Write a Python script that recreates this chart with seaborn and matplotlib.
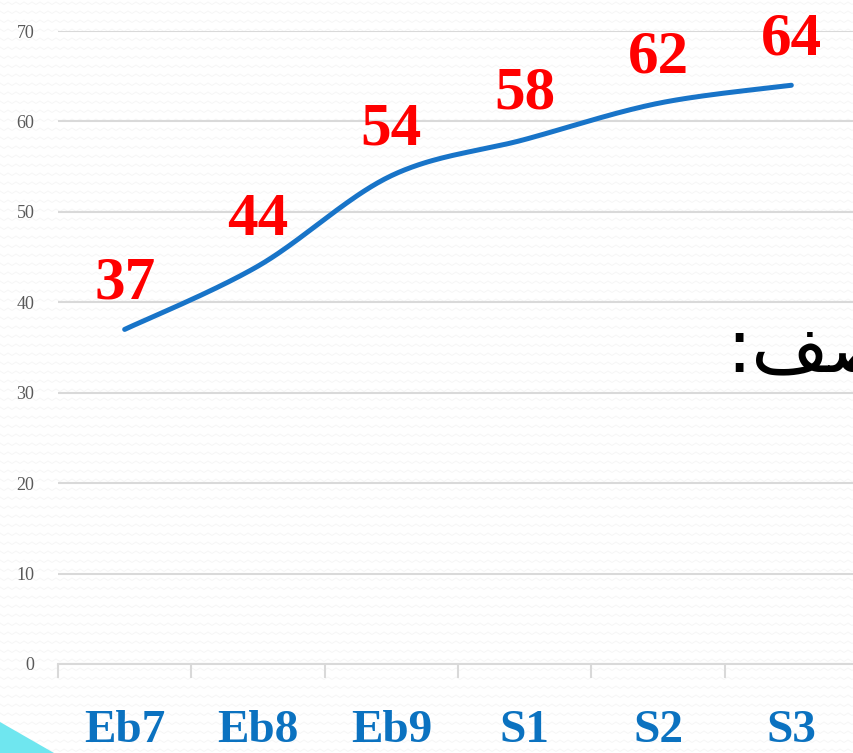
import numpy as np
import pandas as pd
import matplotlib
matplotlib.use("Agg")
import matplotlib.pyplot as plt
import seaborn as sns

# Data
categories = ["Eb7", "Eb8", "Eb9", "S1", "S2", "S3"]
values = [37, 44, 54, 58, 62, 64]
y_ticks = [0, 10, 20, 30, 40, 50, 60, 70]

LINE_COLOR = "#1874C8"
LABEL_RED = "#FF0000"
CAT_BLUE = "#0B72C0"
GRID = "#D9D9D9"


def smooth_curve(xs, ys, n=40):
    """Bezier smoothing through the points (Catmull-Rom style control points)."""
    xs = np.asarray(xs, float)
    ys = np.asarray(ys, float)
    px = np.concatenate([[xs[0]], xs, [xs[-1]]])
    py = np.concatenate([[ys[0]], ys, [ys[-1]]])
    out_x, out_y = [], []
    t = np.linspace(0, 1, n)
    for i in range(1, len(px) - 2):
        p0 = np.array([px[i], py[i]])
        p3 = np.array([px[i + 1], py[i + 1]])
        c1 = p0 + (np.array([px[i + 1], py[i + 1]]) - np.array([px[i - 1], py[i - 1]])) / 6
        c2 = p3 - (np.array([px[i + 2], py[i + 2]]) - np.array([px[i], py[i]])) / 6
        b = ((1 - t) ** 3)[:, None] * p0 + (3 * (1 - t) ** 2 * t)[:, None] * c1 \
            + (3 * (1 - t) * t ** 2)[:, None] * c2 + (t ** 3)[:, None] * p3
        out_x.extend(b[:, 0])
        out_y.extend(b[:, 1])
    return np.array(out_x), np.array(out_y)


sns.set_theme(style="white")
plt.rcParams["font.family"] = ["Liberation Serif", "DejaVu Serif"]

W, H = 854, 753
fig = plt.figure(figsize=(W / 100, H / 100), dpi=100)
fig.patch.set_facecolor("white")

# Faint zigzag texture on the page
tex = fig.add_axes([0, 0, 1, 1], zorder=-10)
tex.set_xlim(0, W)
tex.set_ylim(H, 0)
tex.axis("off")
zx = np.arange(0, W + 8, 4)
for row in np.arange(2, H, 9):
    zy = row + np.where((np.arange(len(zx)) % 2) == 0, 0, 2.5)
    tex.plot(zx, zy, color="#F6F6F6", lw=0.7, solid_joinstyle="miter", zorder=0)

# Cyan corner triangle
tex.fill([0, 0, 54], [722, H, H], color="#6FE6EF", lw=0, zorder=2)

# Plot area runs slightly past the right edge of the page
ax = fig.add_axes([58 / W, (H - 664) / H, (858 - 58) / W, 633 / H])
ax.set_facecolor("none")

x_pos = np.arange(len(categories))
sx, sy = smooth_curve(x_pos, values)
curve = pd.DataFrame({"x": sx, "y": sy})
sns.lineplot(data=curve, x="x", y="y", sort=False, ax=ax, color=LINE_COLOR,
             lw=3.6, solid_capstyle="round", zorder=3)

for xi, v in zip(x_pos, values):
    ax.annotate(f"{v}", (xi, v), xytext=(0, 33), textcoords="offset points",
                ha="center", va="center", color=LABEL_RED, fontsize=44,
                fontweight="bold", annotation_clip=False, zorder=4)

ax.set_xlim(-0.5, len(categories) - 0.5)
ax.set_ylim(0, 70)
ax.set_yticks(y_ticks)
ax.set_yticklabels([str(t) for t in y_ticks], color="#595959", fontsize=13)
ax.yaxis.grid(True, color=GRID, lw=1.5)
ax.set_axisbelow(True)

ax.set_xticks(x_pos)
ax.set_xticklabels(categories, color=CAT_BLUE, fontsize=34, fontweight="bold")
ax.set_xticks(np.arange(-0.5, len(categories), 1.0), minor=True)
ax.tick_params(axis="x", which="both", bottom=True)
ax.tick_params(axis="x", which="major", length=0, pad=33)
ax.tick_params(axis="x", which="minor", length=10, width=1.5, color=GRID)
ax.tick_params(axis="y", length=0, pad=17)
ax.set_xlabel("")
ax.set_ylabel("")

for side in ["top", "right", "left"]:
    ax.spines[side].set_visible(False)
ax.spines["bottom"].set_color(GRID)
ax.spines["bottom"].set_linewidth(1.5)

# Arabic heading running off the right edge (presentation forms, visual order)
fig.text(726 / W, 1 - 352 / H, ":\uFED2\uFEBB\uFEEE\uFEDF\uFE8D", fontsize=54,
         family=["DejaVu Sans"], ha="left", va="center", color="black")

fig.savefig("out.png", dpi=100)
